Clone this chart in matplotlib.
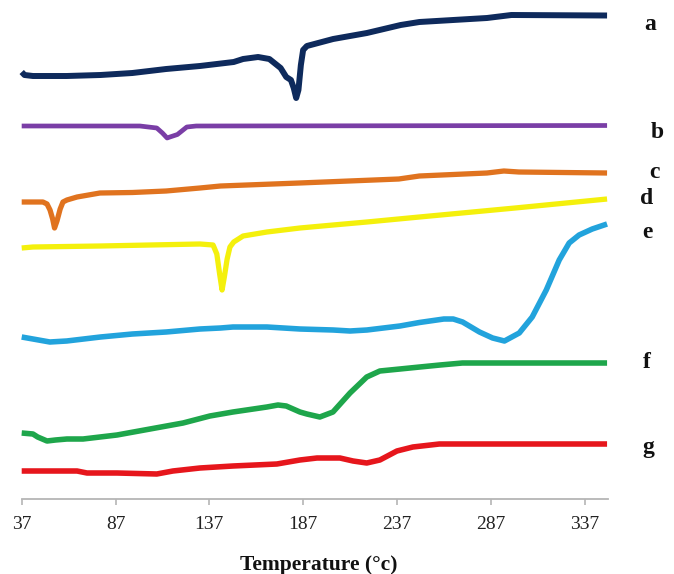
import matplotlib
matplotlib.use("Agg")
import matplotlib.pyplot as plt

# ---- data (temperature in °C, heat flow in arbitrary stacked units) ----
a_T = [37, 38.5, 43, 61, 79, 96, 114, 132, 150, 155, 163, 169, 175, 178, 180.5, 182, 183.3, 184.5, 185.8, 187, 189, 203, 221, 239, 249, 267, 285, 298, 349]
a_y = [427, 424, 423, 423, 424, 426, 430, 433, 437, 440, 442, 440, 431, 422, 419, 411, 401, 409, 434, 449, 453, 460, 466, 474, 477, 479, 481, 484, 483.5]

b_T = [37, 100, 109, 112, 114.5, 116, 120, 125, 130, 349]
b_y = [373, 373, 371, 366, 361, 362, 364.5, 372, 373, 373.5]

c_T = [37, 48.3, 50.5, 52.1, 53.5, 54.5, 55.8, 57.5, 59, 61.1, 66.5, 78.7, 96, 114, 132, 143, 185, 238, 249, 285, 294, 302, 349]
c_y = [297, 297, 295, 289, 280, 271, 278, 290, 297, 299, 302, 306, 306.5, 308, 311, 313, 316, 320, 323, 326, 328, 327, 326]

d_T = [37, 43, 79, 132, 139, 141, 142.5, 143.8, 145, 146.5, 148, 150, 155, 167.7, 185.3, 203, 221, 249, 300, 349]
d_y = [251, 252, 253, 255, 254, 245, 225, 209, 222, 240, 252, 257, 263, 267, 271, 274, 277, 282, 291, 300]

e_T = [37, 52, 61, 79, 96, 114, 132, 143, 149.6, 167.7, 185.3, 203, 212, 221, 238.6, 249, 262, 267, 272, 281, 288, 294.3, 302.2, 309.1, 316.6, 323.5, 328.8, 334.1, 341.1, 349]
e_y = [162, 157, 158, 162, 165, 167, 170, 171, 172, 172, 170, 169, 168, 169, 173, 176.5, 180, 180, 177, 167, 161, 158, 166, 182, 209, 239, 256, 264, 270, 275]

f_T = [37, 43, 45.5, 50.5, 55, 61.1, 69.7, 87.8, 105.4, 123, 137.3, 149.6, 167.7, 173.6, 178, 185.3, 189, 195.9, 202.9, 212, 220.9, 227.9, 238.6, 249.2, 260, 271.9, 349]
f_y = [66, 65, 62, 58, 59, 60, 60, 64, 70, 76, 83, 87, 92, 94, 93, 87, 85, 82, 87, 106, 122, 128, 130, 132, 134, 136, 136]

g_T = [37, 66.5, 71.8, 87.8, 109, 117.6, 132, 149.6, 173, 185.3, 194.4, 206.6, 213.6, 220.9, 227.9, 237, 245.5, 259.6, 349]
g_y = [28, 28, 26, 26, 25, 28, 31, 33, 35, 39, 41, 41, 38, 36, 39, 48, 52, 55, 55]

series_labels = ["a", "b", "c", "d", "e", "f", "g"]
colors = ["#0e2a5c", "#7a3ea6", "#e0731f", "#f4f00c", "#22a3dc", "#1ea64b", "#e6161c"]
widths = [4.3, 3.4, 3.8, 3.8, 4.0, 4.0, 4.0]
label_pos = [(650, 25), (657, 133), (654, 173), (647, 199), (647, 232), (647, 363), (648, 447)]

xticks = [37, 87, 137, 187, 237, 287, 337]

W, H = 674, 574
fig = plt.figure(figsize=(W / 100, H / 100), dpi=100)
ax = fig.add_axes([21.7 / W, (H - 499) / H, (608 - 21.7) / W, 499 / H])

data = [(a_T, a_y), (b_T, b_y), (c_T, c_y), (d_T, d_y), (e_T, e_y), (f_T, f_y), (g_T, g_y)]
for (T, y), col, lw in zip(data, colors, widths):
    ax.plot(T, y, color=col, lw=lw, solid_joinstyle="round", solid_capstyle="butt", clip_on=False)

ax.set_xlim(37, 349.5)
ax.set_ylim(0, 499)
for s in ["top", "right", "left"]:
    ax.spines[s].set_visible(False)
ax.spines["bottom"].set_color("#b5b5b5")
ax.spines["bottom"].set_linewidth(1.3)
ax.set_yticks([])
ax.set_xticks(xticks)
ax.set_xticklabels([str(t) for t in xticks], fontfamily="Liberation Serif", fontsize=14, color="#222222")
ax.tick_params(axis="x", direction="out", length=4, width=1.2, color="#b5b5b5", pad=8)

fig.text(319 / W, (H - 570) / H, "Temperature (\u00b0c)", ha="center", va="baseline",
         fontfamily="Liberation Serif", fontweight="bold", fontsize=15.5, color="#111111")

for lab, (px, py) in zip(series_labels, label_pos):
    fig.text(px / W, (H - py) / H, lab, ha="center", va="center",
             fontfamily="Liberation Serif", fontweight="bold", fontsize=17, color="#111111")

fig.savefig("out.png", dpi=100)
